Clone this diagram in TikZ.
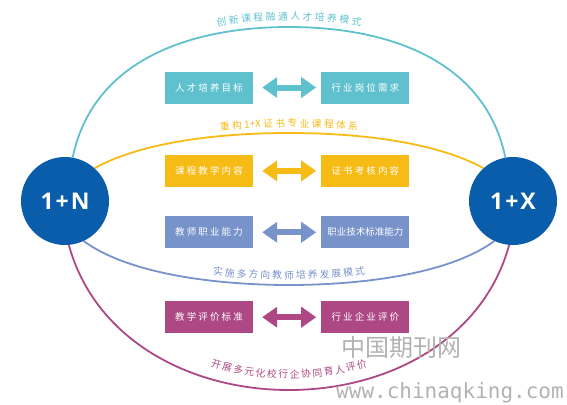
\documentclass[tikz,border=0pt]{standalone}
\usepackage{fontspec}
\newfontfamily\cjk{Noto Sans CJK SC}
\newfontfamily\numfont{Open Sans}
\newfontfamily\webfont{DejaVu Sans Mono}
\usetikzlibrary{positioning,arrows.meta,decorations.text,backgrounds}
\definecolor{cyanC}{RGB}{95,193,206}
\definecolor{goldC}{RGB}{247,187,22}
\definecolor{blueC}{RGB}{120,146,202}
\definecolor{plumC}{RGB}{173,72,132}
\definecolor{navyC}{RGB}{10,93,170}
\newcommand{\lbl}{\cjk\fontsize{9.5}{11}\selectfont}
\newcommand{\arclbl}{\cjk\fontsize{9.8}{11}\selectfont}

\begin{document}
\begin{tikzpicture}[x=1pt, y=-1pt,
  tbox/.style={minimum width=88pt, minimum height=32pt, inner sep=0pt,
              text=white, font=\lbl},
  cyanbox/.style={tbox, fill=cyanC},
  goldbox/.style={tbox, fill=goldC},
  bluebox/.style={tbox, fill=blueC},
  plumbox/.style={tbox, fill=plumC},
  dbl/.style={draw=#1, line width=6pt,
              {Triangle[length=15pt,width=20pt]}-{Triangle[length=15pt,width=20pt]},
              shorten <=9pt, shorten >=5pt},
  hub/.style={circle, fill=navyC, minimum size=88pt, inner sep=0pt, text=white,
              font=\numfont\bfseries\fontsize{23}{26}\selectfont},
  ring/.style={draw=#1, line width=1.8pt},
  along/.style n args={3}{postaction={decorate, decoration={text along path,
              text align=center, raise=#2, text={|\arclbl\color{#1}|#3}}}},
  wmark/.style={text=gray!60, inner sep=0pt}
]
\useasboundingbox (0,0) rectangle (567,404);

% hubs
\node[hub] (lN) at (65,201) {1\kern2pt+\kern2pt N};
\node[hub] (rX) at (513,201) {1\kern2pt+\kern2pt X};

% paired boxes
\node[cyanbox] (goal) at (209,87.5) {人 才 培 养 目 标};
\node[cyanbox, right=68pt of goal] (need) {行 业 岗 位 需 求};
\node[goldbox, below=51pt of goal] (crs) {课 程 教 学 内 容};
\node[goldbox, right=68pt of crs] (cert) {证 书 考 核 内 容};
\node[bluebox, below=29pt of crs] (tch) {教 师 职 业 能 力};
\node[bluebox, right=68pt of tch] (std) {职业技术标准能力};
\node[plumbox, below=52.5pt of tch] (evl) {教 学 评 价 标 准};
\node[plumbox, right=68pt of evl] (ind) {行 业 企 业 评 价};

\draw[dbl=cyanC] (goal) -- (need);
\draw[dbl=goldC] (crs) -- (cert);
\draw[dbl=blueC] (tch) -- (std);
\draw[dbl=plumC] (evl) -- (ind);

% arcs joining the hubs
\begin{scope}[on background layer]
\draw[ring=cyanC, along={cyanC}{7pt}{创 新 课 程 融 通 人 才 培 养 模 式}]
  (lN.80) .. controls (93,60) and (190,27) .. (289,27)
  .. controls (388,27) and (485,60) .. (rX.100);
\draw[ring=goldC, along={goldC}{6pt}{重 构 1+X 证 书 专 业 课 程 体 系}]
  (lN.48) .. controls (140,143) and (215,133) .. (289,133)
  .. controls (363,133) and (438,143) .. (rX.132);
\draw[ring=blueC, along={blueC}{6pt}{实 施 多 方 向 教 师 培 养 发 展 模 式}]
  (lN.-65) .. controls (130,275) and (220,285) .. (289,285)
  .. controls (358,285) and (448,275) .. (rX.-115);
\draw[ring=plumC, along={plumC}{12pt}{开 展 多 元 化 校 行 企 协 同 育 人 评 价}]
  (lN.-85) .. controls (95,340) and (190,390) .. (289,390)
  .. controls (388,390) and (483,340) .. (rX.-95);
\end{scope}

% watermark
\node[wmark, font=\cjk\fontsize{24}{26}\selectfont] (wm) at (401,347) {中国期刊网};
\node[wmark, font=\webfont\fontsize{21}{22}\selectfont] (url) at (450,393) {www.chinaqking.com};
\end{tikzpicture}
\end{document}
